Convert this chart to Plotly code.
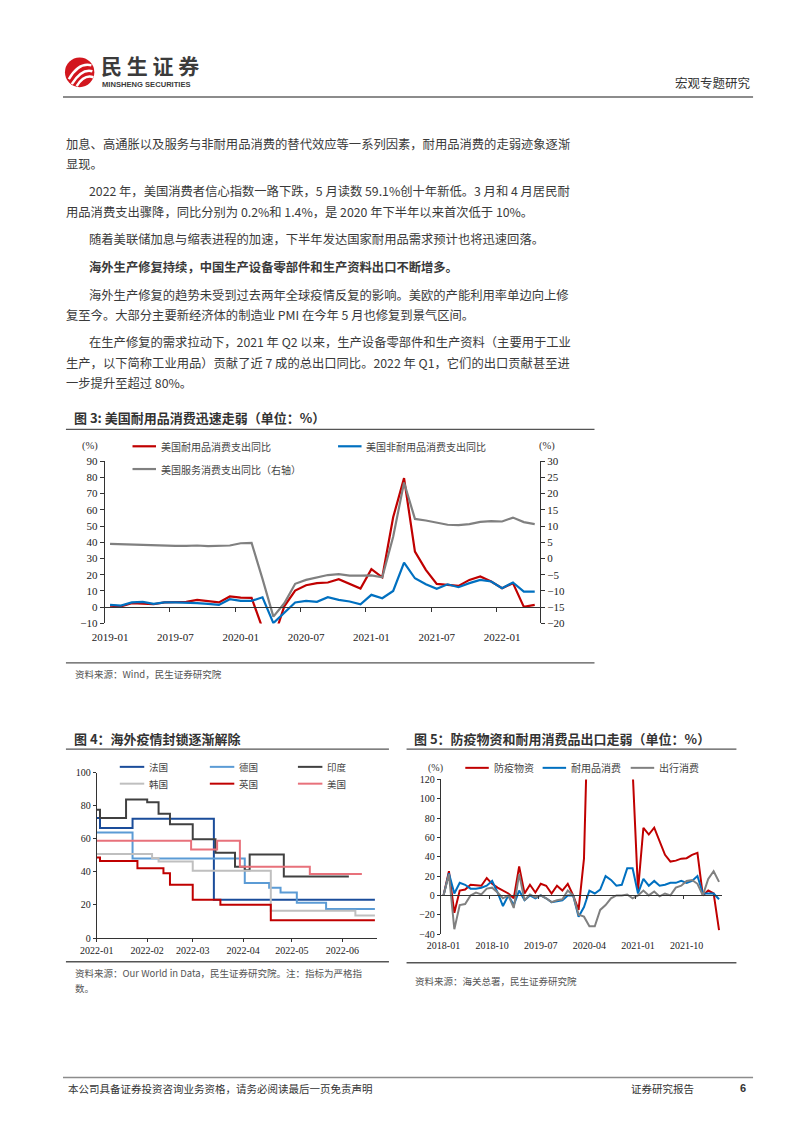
import plotly.graph_objects as go
import pandas as pd

W, H = 802, 1133
def px(x): return x / W
def py(y): return 1 - y / H

SERIF = "Liberation Serif, Times New Roman, serif"
CJK = "Noto Sans CJK SC, Noto Sans, sans-serif"

# ---------------- Figure 3 data ----------------
months3 = [d.strftime("%Y-%m") for d in pd.date_range("2019-01-01", "2022-04-01", freq="MS")]
durable = [1.0, 0.5, 2.5, 2.0, 1.8, 2.9, 3.1, 3.3, 4.5, 3.5, 2.9, 6.6, 5.9, 5.7, -13.0, -20.0,
           0.5, 10.2, 13.5, 14.8, 15.2, 17.2, 14.1, 11.5, 23.4, 18.4, 55.4, 79.5, 34.2, 23.0,
           14.3, 13.7, 13.1, 16.8, 18.9, 15.8, 11.7, 14.8, 0.2, 1.4]
nondurable = [1.4, 1.0, 2.9, 3.3, 2.0, 2.9, 2.9, 2.9, 2.5, 2.0, 1.4, 4.9, 3.9, 3.9, 6.1, -9.8,
              -3.7, 2.9, 3.9, 3.3, 6.1, 4.5, 3.5, 1.8, 7.6, 5.5, 10.0, 27.5, 17.8, 14.1,
              11.3, 14.1, 12.3, 14.8, 16.8, 15.8, 11.7, 15.2, 9.6, 9.6]
services = [4.5, 4.4, 4.2, 4.1, 4.1, 3.8, 3.9, 3.9, 4.0, 3.8, 3.9, 4.0, 4.7, 4.8, -6.3, -17.9,
            -13.8, -7.8, -6.6, -5.8, -5.1, -4.8, -5.3, -5.3, -5.2, -5.8, 6.7, 23.4, 12.2, 11.7,
            11.0, 10.4, 10.3, 10.6, 11.3, 11.5, 11.4, 12.6, 11.2, 10.6]
f3_label_step = 6
f3_left_range = [-10, 90]
f3_right_range = [-20, 30]

# ---------------- Figure 4 data (stringency index, step changes) ----------------
fr_dates = ["2022-01-01", "2022-01-03", "2022-01-23", "2022-03-14", "2022-06-21"]
fr_vals = [72.6, 66.6, 72.2, 23.2, 23.2]
de_dates = ["2022-01-01", "2022-01-23", "2022-04-02", "2022-04-17", "2022-04-24", "2022-05-04", "2022-05-22", "2022-06-21"]
de_vals = [63.9, 48.2, 33.3, 30.4, 27.6, 21.3, 17.6, 17.6]
in_dates = ["2022-01-01", "2022-01-03", "2022-01-19", "2022-02-01", "2022-02-08", "2022-02-15",
            "2022-03-01", "2022-03-15", "2022-03-27", "2022-04-02", "2022-04-05", "2022-04-26", "2022-06-05"]
in_vals = [77.6, 72.6, 83.8, 82.2, 75.2, 68.8, 59.8, 51.6, 43.2, 41.0, 50.6, 37.2, 37.2]
kr_dates = ["2022-01-01", "2022-02-04", "2022-02-08", "2022-03-01", "2022-04-18", "2022-06-09", "2022-06-21"]
kr_vals = [50.8, 48.4, 46.3, 40.7, 16.5, 13.7, 13.7]
uk_dates = ["2022-01-01", "2022-01-03", "2022-01-26", "2022-02-11", "2022-02-15", "2022-03-01",
            "2022-03-18", "2022-04-18", "2022-06-21"]
uk_vals = [48.8, 46.6, 42.2, 39.2, 32.2, 23.2, 20.2, 10.8, 10.8]
us_dates = ["2022-01-01", "2022-02-28", "2022-03-16", "2022-03-30", "2022-05-12", "2022-06-13"]
us_vals = [58.8, 53.6, 58.8, 43.2, 38.8, 38.8]
f4_range = ["2022-01-01", "2022-06-22"]

# ---------------- Figure 5 data ----------------
months5 = [d.strftime("%Y-%m") for d in pd.date_range("2018-01-01", "2022-04-01", freq="MS")]
epidemic = [0, 25, -18, 5, 6, 11, 10.5, 10, 18, 12, 8, 5, 2, -3, 30, 2, 11, 3, 12, 10, 2, 10, 5, 12,
            0, -15, 38, 250, 400, 350, 300, 260, 220, 180, 150, 130, 5, 70, 63, 70, 55, 42, 35, 36,
            38, 38.5, 42, 44, 0, 5, 2, -36]
durable_exp = [0, 23, 2, 13, 11, 7, 7, 8, 10, 15, 3, -11, 0, -10, 5, -5, 0, -3, 0, -3, -7, -6, -5, 0,
               0, -22, -12, 5, 2, 6, 20, 16, 10, 11, 28, 28, 2, 17, 10, 15, 10, 11, 13, 13,
               15, 13, 15, 20, 2, 2, 2, -4]
travel = [0, 22, -35, -10, -9, 0, 3, 1, 7, 8, 3, -3, 0, -13, 22, -5, 1, -2, 0, -3, -7, -5, -4, 5,
          0, -20, -22, -32, -32, -15, -10, -3, 0, 0, 1, -3, 0, 5, 0, 4, -1, 2, 0, 8,
          10, 15, 16, 12, 0, 17, 25, 14]
f5_label_step = 9
f5_range = [-40, 120]

RED, BLUE, GRAY = "#C00000", "#0070C0", "#808080"

fig = go.Figure()

# ---- fig 3 traces
x3 = list(range(len(months3)))
fig.add_trace(go.Scatter(x=x3, y=durable, mode="lines", line=dict(color=RED, width=2.2), xaxis="x", yaxis="y"))
fig.add_trace(go.Scatter(x=x3, y=nondurable, mode="lines", line=dict(color=BLUE, width=2.2), xaxis="x", yaxis="y"))
fig.add_trace(go.Scatter(x=x3, y=services, mode="lines", line=dict(color=GRAY, width=2.2), xaxis="x", yaxis="y2"))
fig.add_trace(go.Scatter(x=[None], y=[None], mode="lines", xaxis="x2", yaxis="y", hoverinfo="skip"))

# ---- fig 4 traces
for d, v, c in [(fr_dates, fr_vals, "#1A4C9A"), (de_dates, de_vals, "#5B9BD5"), (in_dates, in_vals, "#404040"),
                (kr_dates, kr_vals, "#BFBFBF"), (uk_dates, uk_vals, "#C00000"), (us_dates, us_vals, "#E8717B")]:
    fig.add_trace(go.Scatter(x=d, y=v, mode="lines", line=dict(color=c, width=2, shape="hv"), xaxis="x3", yaxis="y3"))

# ---- fig 5 traces
x5 = list(range(len(months5)))
fig.add_trace(go.Scatter(x=x5, y=epidemic, mode="lines", line=dict(color=RED, width=2), xaxis="x4", yaxis="y4"))
fig.add_trace(go.Scatter(x=x5, y=durable_exp, mode="lines", line=dict(color=BLUE, width=2), xaxis="x4", yaxis="y4"))
fig.add_trace(go.Scatter(x=x5, y=travel, mode="lines", line=dict(color=GRAY, width=2), xaxis="x4", yaxis="y4"))
fig.add_trace(go.Scatter(x=[None], y=[None], mode="lines", xaxis="x5", yaxis="y4", hoverinfo="skip"))

# domains
d3x = [px(89.5), px(534.5)]
d3y = [py(624), py(460)]
d4x = [px(81.5), px(367.3)]
d4y = [py(942), py(775)]
d5x = [px(433), px(720)]
d5y = [py(938), py(781.7)]

def zero_pos(dom, rng):
    return dom[0] + (0 - rng[0]) / (rng[1] - rng[0]) * (dom[1] - dom[0])

AX = "#333333"
tickfont3 = dict(family=SERIF, size=11, color="#222")
tickfont45 = dict(family=SERIF, size=10, color="#222")

r3 = [-0.5, len(months3) - 0.5]
lab3 = list(range(0, len(months3), f3_label_step))
r5 = [-0.5, len(months5) - 0.5]
lab5 = list(range(0, len(months5), f5_label_step))

fig.update_layout(
    width=W, height=H, margin=dict(l=0, r=0, t=0, b=0),
    paper_bgcolor="white", plot_bgcolor="white", showlegend=False,
    xaxis=dict(domain=d3x, anchor="y", range=r3, tickvals=lab3, ticktext=[months3[i] for i in lab3],
               showline=False, ticks="", showgrid=False, zeroline=False, tickfont=tickfont3, ticklabelstandoff=6),
    xaxis2=dict(domain=d3x, overlaying="x", anchor="free", position=zero_pos(d3y, f3_left_range), range=r3,
                tickvals=[i - 0.5 for i in lab3[1:]], showticklabels=False, showline=True, linecolor=AX, linewidth=1,
                ticks="outside", ticklen=4, tickcolor=AX, showgrid=False, zeroline=False),
    yaxis=dict(domain=d3y, anchor="x", range=f3_left_range, dtick=10, showline=True, linecolor=AX, linewidth=1,
               ticks="outside", ticklen=4, tickcolor=AX, showgrid=False, zeroline=False, tickfont=tickfont3),
    yaxis2=dict(overlaying="y", side="right", anchor="x", range=f3_right_range, dtick=5, showline=True, linecolor=AX,
                linewidth=1, ticks="outside", ticklen=4, tickcolor=AX, showgrid=False, zeroline=False, tickfont=tickfont3),
    xaxis3=dict(domain=d4x, anchor="y3", type="date", range=f4_range, dtick="M1", tick0="2022-01-01",
                tickformat="%Y-%m", showline=True, linecolor=AX, linewidth=1, ticks="outside", ticklen=3,
                tickcolor=AX, showgrid=False, zeroline=False, tickfont=tickfont45),
    yaxis3=dict(domain=d4y, anchor="x3", range=[0, 100], dtick=20, showline=True, linecolor=AX, linewidth=1,
                ticks="outside", ticklen=3, tickcolor=AX, showgrid=False, zeroline=False, tickfont=tickfont45),
    xaxis4=dict(domain=d5x, anchor="y4", range=r5, tickvals=lab5, ticktext=[months5[i] for i in lab5],
                showline=False, ticks="", showgrid=False, zeroline=False, tickfont=tickfont45, ticklabelstandoff=4),
    xaxis5=dict(domain=d5x, overlaying="x4", anchor="free", position=zero_pos(d5y, f5_range), range=r5,
                tickvals=[i - 0.5 for i in lab5[1:]], showticklabels=False, showline=True, linecolor=AX, linewidth=1,
                ticks="outside", ticklen=3, tickcolor=AX, showgrid=False, zeroline=False),
    yaxis4=dict(domain=d5y, anchor="x4", range=f5_range, dtick=20, showline=True, linecolor=AX, linewidth=1,
                ticks="outside", ticklen=3, tickcolor=AX, showgrid=False, zeroline=False, tickfont=tickfont45),
)

ann = []
shapes = []

def txt(x, y, s, size=12.3, color="#3a3a3a", anchor="left", family=CJK):
    ann.append(dict(x=px(x), y=py(y), xref="paper", yref="paper", text=s, showarrow=False,
                    xanchor=anchor, yanchor="middle", font=dict(family=family, size=size, color=color)))

def hline(x0, x1, y, color="#555", width=1.2):
    shapes.append(dict(type="line", xref="paper", yref="paper", x0=px(x0), x1=px(x1), y0=py(y), y1=py(y),
                       line=dict(color=color, width=width)))

# ---- header
shapes.append(dict(type="circle", xref="paper", yref="paper", x0=px(49), x1=px(79), y0=py(82), y1=py(52),
                   fillcolor="#D2161E", line=dict(width=0)))
for (a, b, c, d) in [((53, 74), (60, 62), (68, 58), (76, 60)), ((56, 79), (63, 68), (70, 64), (77, 66)),
                     ((61, 81), (66, 73), (72, 70), (78, 72))]:
    path = f"M {px(a[0])},{py(a[1])} C {px(b[0])},{py(b[1])} {px(c[0])},{py(c[1])} {px(d[0])},{py(d[1])}"
    shapes.append(dict(type="path", xref="paper", yref="paper", path=path, line=dict(color="white", width=2.5)))
txt(84, 60, "<b>民 生 证 券</b>", size=21, color="#3b3b3b")
txt(85, 79.5, "<b>MINSHENG SECURITIES</b>", size=7.6, color="#3b3b3b", family="Liberation Sans, Arial, sans-serif")
txt(752, 77, "宏观专题研究", size=12.5, color="#333", anchor="right")
hline(47, 752, 92, color="#8c8c8c", width=2)

# ---- body text
body = [
    (48, 139, "加息、高通胀以及服务与非耐用品消费的替代效应等一系列因素，耐用品消费的走弱迹象逐渐"),
    (48, 160, "显现。"),
    (72, 187, "2022 年，美国消费者信心指数一路下跌，5 月读数 59.1%创十年新低。3 月和 4 月居民耐"),
    (48, 208, "用品消费支出骤降，同比分别为 0.2%和 1.4%，是 2020 年下半年以来首次低于 10%。"),
    (72, 235, "随着美联储加息与缩表进程的加速，下半年发达国家耐用品需求预计也将迅速回落。"),
    (72, 264, "<b>海外生产修复持续，中国生产设备零部件和生产资料出口不断增多。</b>"),
    (72, 292, "海外生产修复的趋势未受到过去两年全球疫情反复的影响。美欧的产能利用率单边向上修"),
    (48, 312, "复至今。大部分主要新经济体的制造业 PMI 在今年 5 月也修复到景气区间。"),
    (72, 340, "在生产修复的需求拉动下，2021 年 Q2 以来，生产设备零部件和生产资料（主要用于工业"),
    (48, 361, "生产，以下简称工业用品）贡献了近 7 成的总出口同比。2022 年 Q1，它们的出口贡献甚至进"),
    (48, 381, "一步提升至超过 80%。"),
]
for x, y, s in body:
    txt(x, y, s)

# ---- fig 3 frame
txt(56, 416, "<b>图 3: 美国耐用品消费迅速走弱（单位：%）</b>", size=13, color="#333")
hline(50, 590, 428, color="#555", width=1.3)
hline(50, 590, 664, color="#555", width=1.3)
txt(57, 675, "资料来源：Wind，民生证券研究院", size=9.5, color="#555")
txt(75, 445, "(%)", size=10.5, color="#333", anchor="center", family=SERIF)
txt(541, 445, "(%)", size=10.5, color="#333", anchor="center", family=SERIF)
for (x0, y0, col, label) in [(118, 445, RED, "美国耐用品消费支出同比"), (328, 445, BLUE, "美国非耐用品消费支出同比"),
                              (118, 468, GRAY, "美国服务消费支出同比（右轴）")]:
    hline(x0, x0 + 24, y0, color=col, width=2.2)
    txt(x0 + 27, y0, label, size=10, color="#444")

# ---- fig 4 frame
txt(56, 740, "<b>图 4：海外疫情封锁逐渐解除</b>", size=13, color="#333")
hline(50, 380, 751, color="#555", width=1.3)
hline(50, 380, 966, color="#555", width=1.3)
txt(57, 977, "资料来源：Our World in Data，民生证券研究院。注：指标为严格指", size=9.5, color="#555")
txt(57, 993, "数。", size=9.5, color="#555")
for (x0, y0, col, label) in [(105, 769, "#1A4C9A", "法国"), (197, 769, "#5B9BD5", "德国"), (287, 769, "#404040", "印度"),
                              (105, 786, "#BFBFBF", "韩国"), (197, 786, "#C00000", "英国"), (287, 786, "#E8717B", "美国")]:
    hline(x0, x0 + 25, y0, color=col, width=2)
    txt(x0 + 28, y0, label, size=9.5, color="#444")

# ---- fig 5 frame
txt(404, 740, "<b>图 5：防疫物资和耐用消费品出口走弱（单位：%）</b>", size=13, color="#333")
hline(398, 735, 751, color="#555", width=1.3)
hline(398, 735, 967, color="#555", width=1.3)
txt(405, 985, "资料来源：海关总署，民生证券研究院", size=9.5, color="#555")
txt(428, 770, "(%)", size=10, color="#333", anchor="center", family=SERIF)
for (x0, y0, col, label) in [(458, 770, RED, "防疫物资"), (537, 770, BLUE, "耐用品消费"), (627, 770, GRAY, "出行消费")]:
    hline(x0, x0 + 24, y0, color=col, width=2)
    txt(x0 + 27, y0, label, size=10, color="#444")

# ---- footer
hline(47, 752, 1083, color="#8c8c8c", width=1.5)
txt(50, 1094, "本公司具备证券投资咨询业务资格，请务必阅读最后一页免责声明", size=10.5, color="#333")
txt(625, 1094, "证券研究报告", size=10.5, color="#333")
txt(742, 1094, "<b>6</b>", size=11, color="#333", anchor="center", family="Liberation Sans, Arial")

fig.update_layout(annotations=ann, shapes=shapes)
fig.write_html("out.html")
